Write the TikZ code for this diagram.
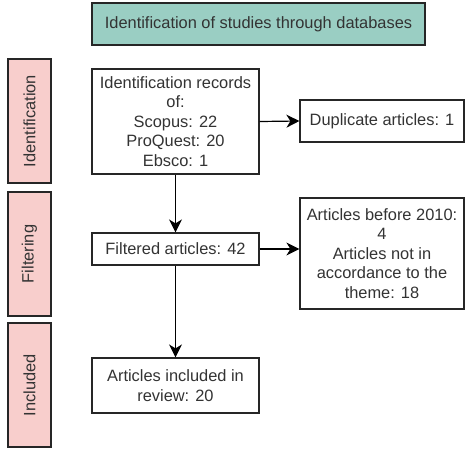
\documentclass[tikz,border=0pt]{standalone}
\usepackage{fontspec}
\setmainfont{Liberation Sans}
\usetikzlibrary{arrows.meta}
\definecolor{teal}{RGB}{154,206,195}
\definecolor{pinkfill}{RGB}{248,206,204}
\definecolor{txt}{RGB}{51,51,51}
\tikzset{
  box/.style={draw=black!85, line width=1.2pt, fill=white, text=txt, align=center, inner sep=1pt,
    font=\fontsize{16.4}{19.4}\selectfont},
  side/.style={draw=black!85, line width=1.2pt, fill=pinkfill, text=txt, rotate=90,
    minimum width=124pt, minimum height=43pt, inner sep=0pt, font=\fontsize{16.4}{19.4}\selectfont},
  arr/.style={line width=1.2pt, draw=black, -{Stealth[length=13pt,width=13pt,inset=4pt]}}
}
\begin{document}
\begin{tikzpicture}[x=1pt,y=-1pt]
\useasboundingbox (0,0) rectangle (465,450);
\node[box, fill=teal, minimum width=333pt, minimum height=42pt] (title) at (258.5,24) {Identification of studies through databases};
\node[side] (sideI) at (29.5,121) {Identification};
\node[side] (sideF) at (29.5,254) {Filtering};
\node[side] (sideN) at (29.5,385) {Included};
\node[box, minimum width=167pt, minimum height=105pt] (ident) at (175.5,121.5) {Identification records\\of:\\Scopus: 22\\ProQuest: 20\\Ebsco: 1};
\node[box, minimum width=164pt, minimum height=42pt] (dup) at (382,121) {Duplicate articles: 1};
\node[box, minimum width=167pt, minimum height=32pt] (filt) at (175.5,249) {Filtered articles: 42};
\node[box, minimum width=164pt, minimum height=111pt] (excl) at (382,253.5) {Articles before 2010:\\4\\Articles not in\\accordance to the\\theme: 18};
\node[box, minimum width=167pt, minimum height=55pt] (incl) at (175.5,385.5) {Articles included in\\review: 20};
\draw[arr] (ident.east) -- (dup.west);
\draw[arr] (ident.south) -- (filt.north);
\draw[arr] (filt.east) -- (filt.east -| excl.west);
\draw[arr] (filt.south) -- (incl.north);
\end{tikzpicture}
\end{document}
